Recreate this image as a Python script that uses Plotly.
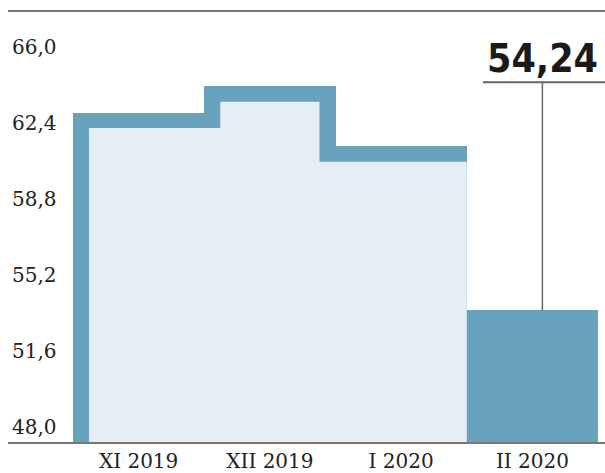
import plotly.graph_objects as go

# ---- data ----
categories = ["XI 2019", "XII 2019", "I 2020", "II 2020"]
values = [63.6, 64.85, 62.0, 54.24]
y_ticks = [48.0, 51.6, 55.2, 58.8, 62.4, 66.0]
y_tick_labels = ["48,0", "51,6", "55,2", "58,8", "62,4", "66,0"]
highlight_label = "54,24"

# ---- style / layout ----
W, H = 605, 473
M_L, M_R, M_T, M_B = 8, 0, 62, 28
X_RANGE = [-0.995, 3.553]
Y_RANGE = [48.0, 66.0]
BLUE = "#68a2bd"
LIGHT = "#e6eef5"
AXIS_GRAY = "#777777"
SERIF = "DejaVu Serif, Liberation Serif, serif"
NARROW = "Liberation Sans Narrow, DejaVu Sans Condensed, Roboto Condensed, Arial Narrow, sans-serif"
OUTLINE_PX_X = 16
OUTLINE_PX_Y = 15.5

plot_w = W - M_L - M_R
plot_h = H - M_T - M_B
px_per_x = plot_w / (X_RANGE[1] - X_RANGE[0])
px_per_y = plot_h / (Y_RANGE[1] - Y_RANGE[0])
tx = OUTLINE_PX_X / px_per_x
ty = OUTLINE_PX_Y / px_per_y

idx = list(range(len(categories)))
base = Y_RANGE[0]

fig = go.Figure()

# Blue bars (outline / solid last bar)
fig.add_trace(go.Bar(
    x=idx, y=[v - base for v in values], base=base, width=1.0,
    marker=dict(color=BLUE, line=dict(width=0)),
    hoverinfo="skip", showlegend=False,
))

# Light inner fill for the outlined (first n-1) bars
n_out = len(values) - 1
xs, ys = [], []
xs.append(idx[0] - 0.5 + tx); ys.append(base)
xs.append(idx[0] - 0.5 + tx); ys.append(values[0] - ty)
for i in range(n_out):
    top = values[i] - ty
    b = idx[i] + 0.5
    if i + 1 < n_out:
        xv = b + tx if values[i + 1] > values[i] else b - tx
        xs.append(xv); ys.append(top)
        xs.append(xv); ys.append(values[i + 1] - ty)
    else:
        xs.append(b); ys.append(top)
        xs.append(b); ys.append(base)
fig.add_trace(go.Scatter(
    x=xs, y=ys, mode="lines", fill="toself", fillcolor=LIGHT,
    line=dict(width=0), hoverinfo="skip", showlegend=False,
))

last = idx[-1]
lead_x = last + 0.076
lead_top = 65.04

shapes = [
    # header separator line
    dict(type="line", xref="paper", yref="paper", x0=0, x1=1,
         y0=1 + (M_T - 10.5) / plot_h, y1=1 + (M_T - 10.5) / plot_h,
         line=dict(color=AXIS_GRAY, width=2)),
    # leader line vertical
    dict(type="line", xref="x", yref="y", x0=lead_x, x1=lead_x,
         y0=values[-1], y1=lead_top, line=dict(color="#666666", width=1.5)),
    # leader line horizontal
    dict(type="line", xref="paper", yref="y", x0=(483 - M_L) / plot_w, x1=1,
         y0=lead_top, y1=lead_top, line=dict(color="#666666", width=2)),
]

annotations = [
    dict(x=lead_x, y=lead_top, xref="x", yref="y", text=f"<b>{highlight_label}</b>",
         showarrow=False, xanchor="center", yanchor="bottom", yshift=-1,
         font=dict(family=NARROW, size=39, color="#1a1a1a")),
]
# y-axis value labels sitting just above their level
for tv, tl in zip(y_ticks, y_tick_labels):
    annotations.append(dict(
        x=0, y=tv, xref="paper", yref="y", text=tl, showarrow=False,
        xanchor="left", yanchor="bottom", xshift=2, yshift=1,
        font=dict(family=SERIF, size=20, color="#222222")))

fig.update_layout(
    width=W, height=H,
    margin=dict(l=M_L, r=M_R, t=M_T, b=M_B, pad=0),
    paper_bgcolor="white", plot_bgcolor="white",
    bargap=0,
    shapes=shapes, annotations=annotations,
    xaxis=dict(range=X_RANGE, tickvals=idx, ticktext=categories,
               showgrid=False, zeroline=False, showline=True,
               linecolor=AXIS_GRAY, linewidth=2, ticks="",
               tickfont=dict(family=SERIF, size=20, color="#222222"),
               fixedrange=True),
    yaxis=dict(range=Y_RANGE, tickvals=y_ticks, showticklabels=False,
               showgrid=False, zeroline=False, showline=False, ticks="",
               fixedrange=True),
)

fig.write_html("out.html")
